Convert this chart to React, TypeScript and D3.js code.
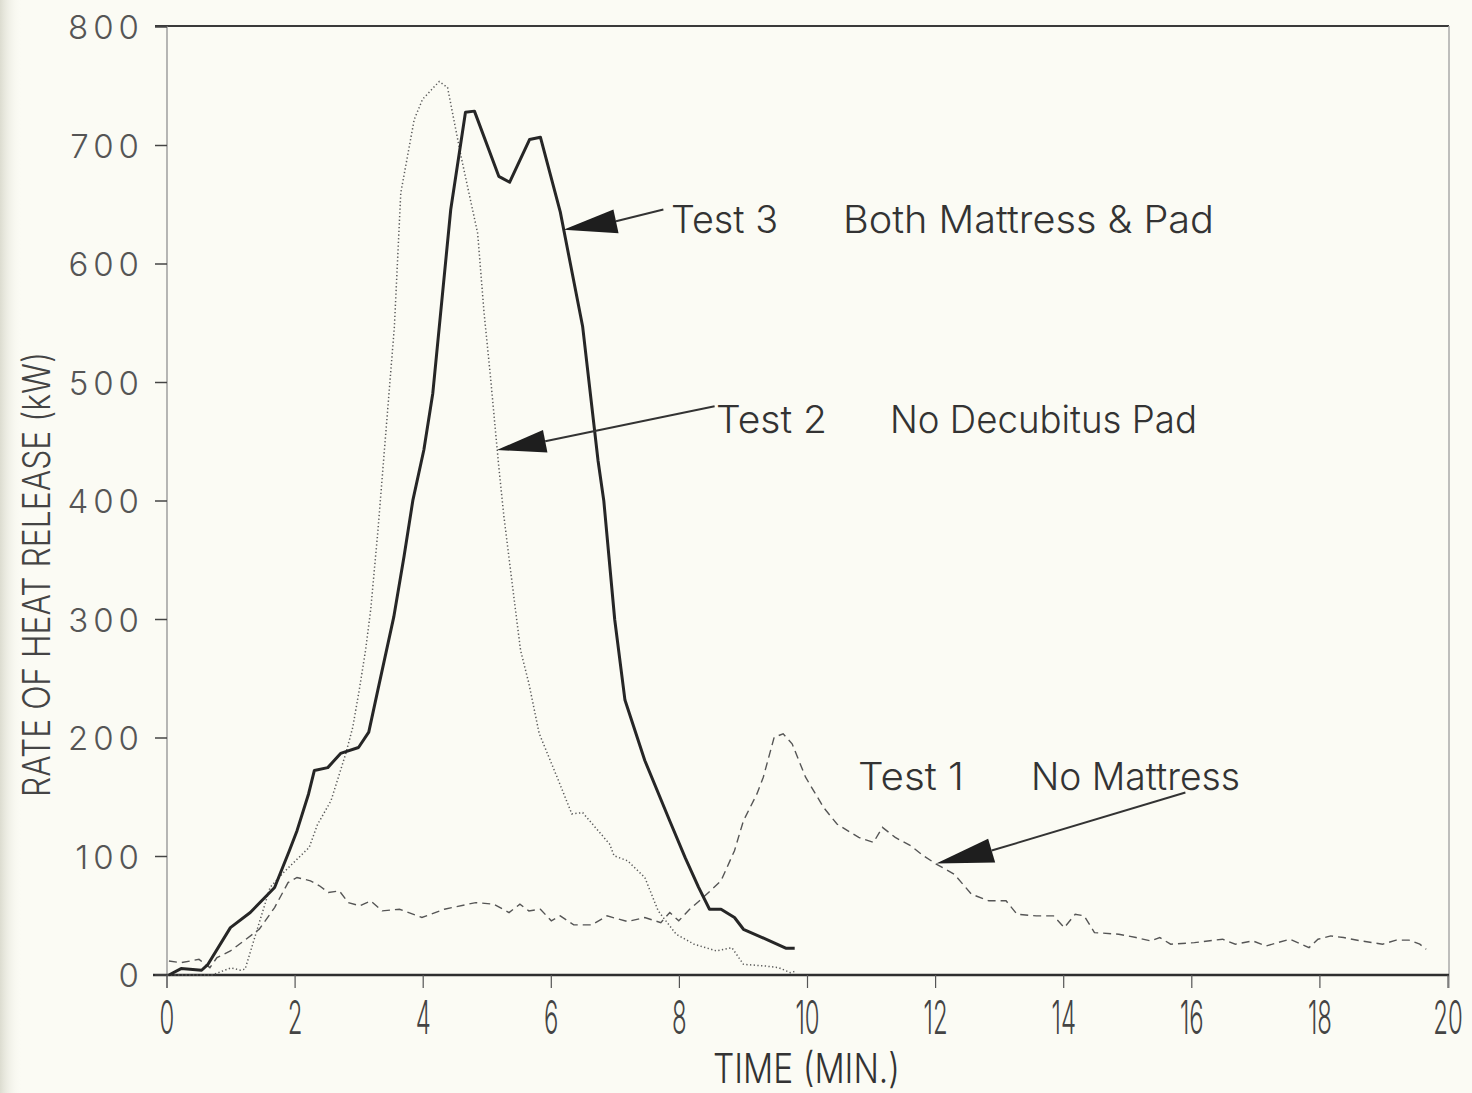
import React from "react";
import * as d3 from "d3";

// ---------- DATA ----------
const test1Time = [0.03,0.22,0.5,0.67,0.78,0.99,1.2,1.44,1.68,1.89,2.03,2.24,2.38,2.52,2.69,2.83,3.01,3.18,3.36,3.63,3.98,4.33,4.82,5.1,5.34,5.51,5.65,5.83,6.0,6.14,6.35,6.63,6.87,7.19,7.46,7.71,7.85,7.99,8.16,8.37,8.65,8.86,9.0,9.21,9.31,9.48,9.62,9.76,9.97,10.25,10.46,10.8,11.03,11.17,11.37,11.61,11.81,12.01,12.29,12.56,12.83,13.1,13.27,13.57,13.84,14.01,14.18,14.32,14.48,14.86,15.13,15.36,15.5,15.67,16.04,16.48,16.68,16.95,17.16,17.53,17.83,17.97,18.17,18.37,18.64,18.98,19.19,19.39,19.56,19.66];
const test1Rhr = [11.8,10.4,13.2,6.2,14.7,20.3,28.8,38.6,56.9,78,82.3,79.5,75.3,69.6,71,61.1,58.4,62.6,54.1,55.5,48.5,55.5,61.1,59.8,52.7,59.8,54.1,55.5,45.7,49.9,42.3,42.3,49.9,45.1,48.5,44.2,52.7,45.7,55.5,65.4,79.5,104.9,130.2,152.8,166.9,200.7,203.5,195.1,166.9,141.5,127.4,116.1,111.9,124.6,116.1,109.1,100.6,93.6,85.1,68.2,62.6,62.6,51.3,49.9,49.9,40,51.3,49.9,35.8,34.4,31.6,28.8,31.6,26,27.3,30.2,26,28.8,24.5,30.2,23.1,30.2,33,31.6,28.8,26,29.4,29.4,26,21.7];

const test2Time = [0,0.4,0.7,0.85,1.0,1.15,1.22,1.4,1.61,1.82,2.22,2.35,2.56,2.79,2.9,3.0,3.1,3.18,3.29,3.39,3.55,3.65,3.86,3.99,4.25,4.38,4.59,4.85,4.95,5.05,5.18,5.26,5.39,5.52,5.65,5.81,6.09,6.32,6.49,6.91,6.98,7.19,7.46,7.67,7.95,8.23,8.58,8.82,9.0,9.34,9.55,9.73,9.8];
const test2Rhr = [0,0,0,3,6,4,5,37,74,86.5,107.7,127,147,186.6,209,240,274,308,373,440,547,660,722,739,754,749,691,626,559,505,429,387,330,274,246,204,167,136,137,110.5,100.6,96.4,82.3,54,34.4,26,20.3,23,9,7.6,6.2,2,3];

const test3Time = [0.03,0.22,0.54,0.64,0.99,1.3,1.68,1.91,2.03,2.21,2.3,2.51,2.71,2.99,3.15,3.29,3.54,3.7,3.84,4.01,4.15,4.43,4.66,4.8,5.18,5.35,5.66,5.83,6.14,6.49,6.73,6.82,6.99,7.15,7.46,7.85,8.09,8.3,8.47,8.65,8.86,9.0,9.41,9.66,9.8];
const test3Rhr = [0,5.4,4,9,40,52.7,73.8,104.9,121.8,152.8,172.5,175,187,192,205,240,302,353,401,443,491,646,728,729,674,669,705,707,644,547,434,400,300,232,181,130,99,74,55.5,55.5,48.5,38.6,28.8,22.6,22.6];

const xTicks = [0,2,4,6,8,10,12,14,16,18,20];
const yTicks = [0,100,200,300,400,500,600,700,800];

const xTitle = "TIME (MIN.)";
const yTitle = "RATE OF HEAT RELEASE (kW)";

// annotation labels, arrow tip / base points in data units
const annoTest = ["Test 3", "Test 2", "Test 1"];
const annoDesc = ["Both Mattress & Pad", "No Decubitus Pad", "No Mattress"];
const arrowTips = [[6.19, 629], [5.15, 443], [12.01, 94]];
const arrowBaseA = [[6.97, 646], [5.87, 460], [12.82, 115]];
const arrowBaseB = [[7.05, 626], [5.94, 441], [12.93, 95]];
const arrowTails = [[7.75, 646], [8.55, 480], [15.9, 154]];

// ---------- LAYOUT ----------
const W = 1472, H = 1093;
const X0 = 167, X1 = 1448, Y0 = 975, Y1 = 27;
const BG = "#fbfbf4";
const FONT = "Inter, 'DejaVu Sans', sans-serif";

export default function App() {
  const x = d3.scaleLinear().domain([0, 20]).range([X0, X1]);
  const y = d3.scaleLinear().domain([0, 800]).range([Y0, Y1]);

  const line = d3.line<[number, number]>().x(d => x(d[0])).y(d => y(d[1])).curve(d3.curveLinear);
  const s1 = test1Time.map((t, i) => [t, test1Rhr[i]] as [number, number]);
  const s2 = test2Time.map((t, i) => [t, test2Rhr[i]] as [number, number]);
  const s3 = test3Time.map((t, i) => [t, test3Rhr[i]] as [number, number]);

  // annotation text layout (pixels)
  const textPos = [
    { a: [671, 778], b: [843, 1214], base: 233 },
    { a: [716, 827], b: [890, 1197], base: 433 },
    { a: [858, 964], b: [1031, 1240], base: 790 },
  ];

  return (
    <svg width={W} height={H} style={{ position: "absolute", left: 0, top: 0, background: BG }}>
      <defs>
        <linearGradient id="edge" x1="0" x2="1" y1="0" y2="0">
          <stop offset="0" stopColor="#dcdcd0" />
          <stop offset="1" stopColor={BG} stopOpacity={0} />
        </linearGradient>
      </defs>
      <rect x={0} y={0} width={W} height={H} fill={BG} />
      <rect x={0} y={0} width={22} height={H} fill="url(#edge)" />

      {/* frame */}
      <line x1={155} x2={1449} y1={26} y2={26} stroke="#3a3a3a" strokeWidth={2} />
      <line x1={X0} x2={X0} y1={26} y2={988} stroke="#888" strokeWidth={1.2} />
      <line x1={1449} x2={1449} y1={26} y2={988} stroke="#aaa" strokeWidth={1.5} />
      <line x1={153} x2={1449} y1={Y0} y2={Y0} stroke="#2e2e2e" strokeWidth={2.5} />

      {/* y ticks */}
      {yTicks.map(v => (
        <g key={"yt" + v}>
          <line x1={155} x2={X0} y1={y(v)} y2={y(v)} stroke="#444" strokeWidth={1.5} />
          <text x={139} y={y(v) + 12} fontFamily={FONT} fontWeight={300} fontSize={33}
            fill="#555" textAnchor="end" letterSpacing={v === 0 ? 0 : 5}
            dx={v === 0 ? 0 : 5}>{v}</text>
        </g>
      ))}

      {/* x ticks */}
      {xTicks.map(t => (
        <g key={"xt" + t}>
          <line x1={x(t)} x2={x(t)} y1={Y0} y2={988} stroke="#555" strokeWidth={1.2} />
          <text transform={`translate(${x(t)},1034) scale(0.52,1)`} fontFamily={FONT} fontWeight={300}
            fontSize={46} fill="#444" textAnchor="middle">{t}</text>
        </g>
      ))}

      {/* axis titles */}
      <text x={713} y={1083} fontFamily={FONT} fontWeight={300} fontSize={41} fill="#333"
        textLength={187} lengthAdjust="spacingAndGlyphs">{xTitle}</text>
      <text transform="translate(50,797) rotate(-90)" x={0} y={0} fontFamily={FONT} fontWeight={300}
        fontSize={38} fill="#444" textLength={445} lengthAdjust="spacingAndGlyphs">{yTitle}</text>

      {/* series */}
      <path d={line(s1) || ""} fill="none" stroke="#555" strokeWidth={1.4} strokeDasharray="8 5" />
      <path d={line(s2) || ""} fill="none" stroke="#5a5a5a" strokeWidth={1.5} strokeDasharray="1.3 2.4" />
      <path d={line(s3) || ""} fill="none" stroke="#262626" strokeWidth={3} strokeLinejoin="round" />

      {/* annotations */}
      {annoTest.map((lab, i) => {
        const tip = arrowTips[i], a = arrowBaseA[i], b = arrowBaseB[i], tail = arrowTails[i];
        const midX = (x(a[0]) + x(b[0])) / 2, midY = (y(a[1]) + y(b[1])) / 2;
        const p = textPos[i];
        return (
          <g key={"an" + i}>
            <line x1={midX} y1={midY} x2={x(tail[0])} y2={y(tail[1])} stroke="#333" strokeWidth={2} />
            <polygon points={`${x(tip[0])},${y(tip[1])} ${x(a[0])},${y(a[1])} ${x(b[0])},${y(b[1])}`} fill="#1e1e1e" />
            <text x={p.a[0]} y={p.base} fontFamily={FONT} fontWeight={300} fontSize={38} fill="#333"
              textLength={p.a[1] - p.a[0]} lengthAdjust="spacingAndGlyphs">{lab}</text>
            <text x={p.b[0]} y={p.base} fontFamily={FONT} fontWeight={300} fontSize={38} fill="#333"
              textLength={p.b[1] - p.b[0]} lengthAdjust="spacingAndGlyphs">{annoDesc[i]}</text>
          </g>
        );
      })}
    </svg>
  );
}
